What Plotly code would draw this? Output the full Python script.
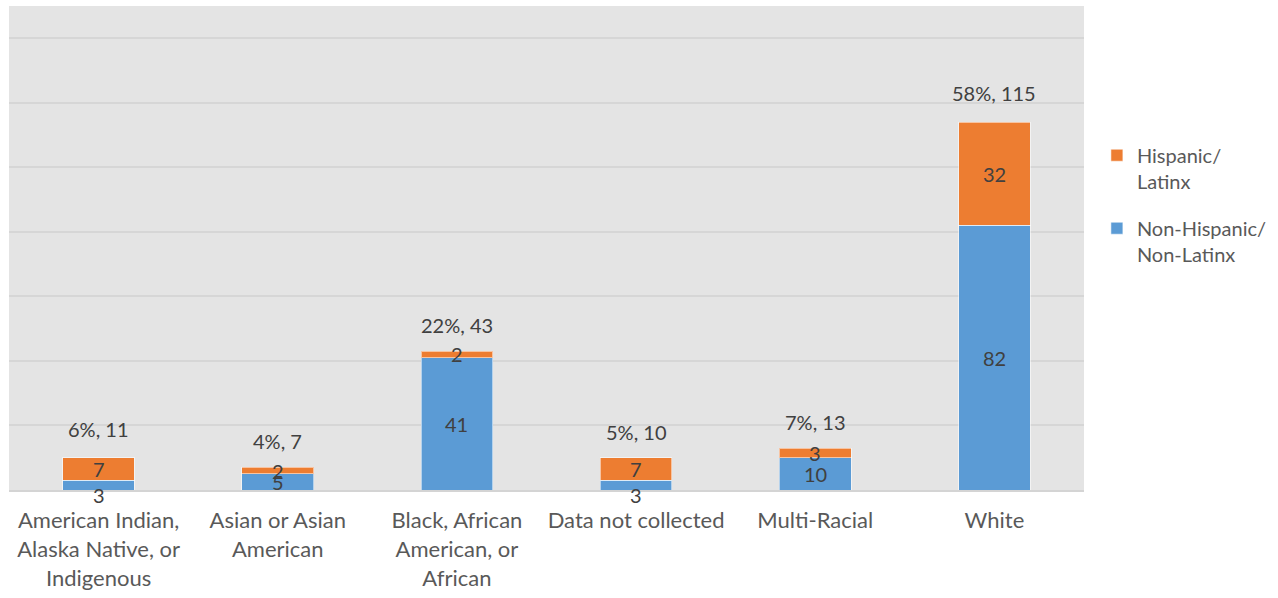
import plotly.graph_objects as go

categories = [
    "American Indian,<br>Alaska Native, or<br>Indigenous",
    "Asian or Asian<br>American",
    "Black, African<br>American, or<br>African",
    "Data not collected",
    "Multi-Racial",
    "White",
]
non_hispanic = [3, 5, 41, 3, 10, 82]
hispanic = [7, 2, 2, 7, 3, 32]
total_pct = ["6%", "4%", "22%", "5%", "7%", "58%"]
total_count = [11, 7, 43, 10, 13, 115]

FONT = "Lato"
LABEL_COLOR = "#404040"
AXIS_COLOR = "#595959"
BLUE = "#5B9BD5"
ORANGE = "#ED7D31"
EDGE = dict(color="rgba(255,255,255,0.55)", width=1)

fig = go.Figure()
fig.add_trace(go.Bar(
    x=categories, y=non_hispanic, name="Non-Hispanic/<br>Non-Latinx",
    marker=dict(color=BLUE, line=EDGE), legendgroup="nh", legendrank=2,
))
fig.add_trace(go.Bar(
    x=categories, y=hispanic, name="Hispanic/<br>Latinx",
    marker=dict(color=ORANGE, line=EDGE), legendgroup="h", legendrank=1,
))

label_font = dict(family=FONT, size=20, color=LABEL_COLOR)
annotations = []
for cat, nh, h, pct, tot in zip(categories, non_hispanic, hispanic, total_pct, total_count):
    # very thin bottom segments get their label nudged below the orange one
    nudge = -10 if nh < 4 else 0
    annotations.append(dict(x=cat, y=nh / 2, text=str(nh), showarrow=False,
                            yshift=nudge, font=label_font))
    annotations.append(dict(x=cat, y=nh + h / 2, text=str(h), showarrow=False,
                            font=label_font))
    annotations.append(dict(x=cat, y=tot, text=f"{pct}, {tot}", showarrow=False,
                            yanchor="bottom", yshift=12, font=label_font))

fig.update_layout(
    width=1278, height=598,
    margin=dict(l=9, r=192, t=6, b=108),
    barmode="stack",
    bargap=0.6,
    paper_bgcolor="white",
    plot_bgcolor="#E4E4E4",
    font=dict(family=FONT, size=20, color=AXIS_COLOR),
    showlegend=True,
    legend=dict(
        x=1.012, y=0.732, xanchor="left", yanchor="top",
        traceorder="grouped", tracegroupgap=18, valign="top",
        font=dict(family=FONT, size=20, color=AXIS_COLOR),
        bgcolor="rgba(0,0,0,0)",
    ),
    annotations=annotations,
)
fig.update_xaxes(showgrid=False, ticks="", tickfont=dict(size=22, color=AXIS_COLOR),
                 ticklabelstandoff=10,
                 showline=True, linecolor="#D4D4D4", linewidth=2)
fig.update_yaxes(range=[0, 150], dtick=20, showgrid=True, gridcolor="#D6D6D6",
                 gridwidth=2, showticklabels=False, zeroline=False)

fig.write_html("out.html")
